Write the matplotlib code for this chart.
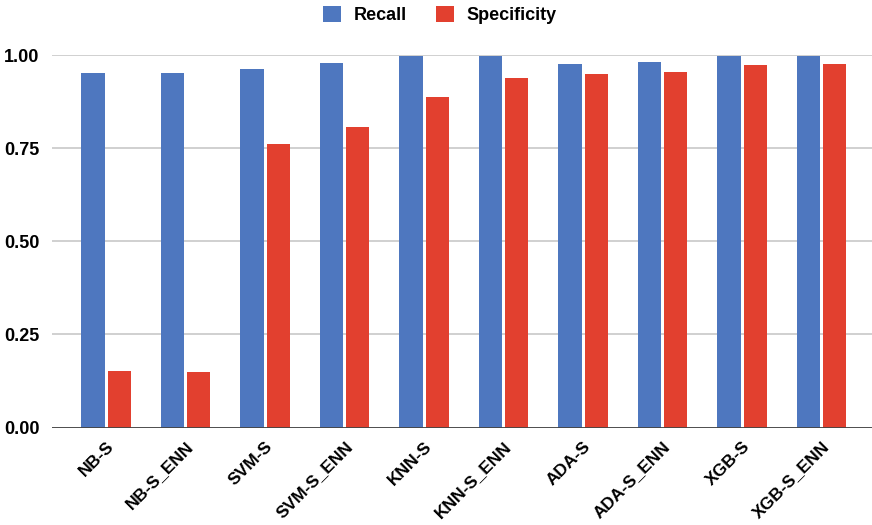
import numpy as np
import matplotlib.pyplot as plt

plt.rcParams['font.family'] = ['Liberation Sans', 'DejaVu Sans']

models = ['NB-S', 'NB-S_ENN', 'SVM-S', 'SVM-S_ENN', 'KNN-S', 'KNN-S_ENN',
          'ADA-S', 'ADA-S_ENN', 'XGB-S', 'XGB-S_ENN']
recall = [0.951, 0.951, 0.962, 0.979, 0.996, 0.996, 0.976, 0.980, 0.996, 0.996]
specificity = [0.152, 0.149, 0.761, 0.806, 0.888, 0.939, 0.948, 0.955, 0.972, 0.976]

blue = '#4E77BF'
red = '#E2402F'

fig = plt.figure(figsize=(8.72, 5.25), dpi=100)
ax = fig.add_axes([52 / 872, 97.5 / 525, 820 / 872, 372.5 / 525])

x = np.arange(len(models))
w = 0.29
off = 0.164
ax.bar(x - off, recall, w, color=blue, label='Recall', zorder=3)
ax.bar(x + off, specificity, w, color=red, label='Specificity', zorder=3)

ax.set_xlim(-0.68, 9.635)
ax.set_ylim(0, 1.0)
ax.set_yticks([0, 0.25, 0.5, 0.75, 1.0])
ax.set_yticklabels(['0.00', '0.25', '0.50', '0.75', '1.00'],
                   fontsize=13, fontweight='bold')
ax.yaxis.grid(True, color='#c8c8c8', linewidth=1.2, zorder=0)
ax.axhline(0, color='#444444', linewidth=1.3, zorder=4)
ax.set_xticks(x)
ax.set_xticklabels(models, rotation=45, ha='right', rotation_mode='anchor',
                   fontsize=12.5, fontweight='bold')
ax.tick_params(axis='y', length=0, pad=9)
ax.tick_params(axis='x', length=0, pad=8)
for s in ax.spines.values():
    s.set_visible(False)

fig.legend(loc='center', bbox_to_anchor=(440 / 872, 1 - 15 / 525), ncol=2,
           frameon=False, prop={'weight': 'bold', 'size': 13},
           handlelength=1.0, handleheight=1.0, handletextpad=0.7,
           columnspacing=1.6)

fig.savefig('out.png', dpi=100)
